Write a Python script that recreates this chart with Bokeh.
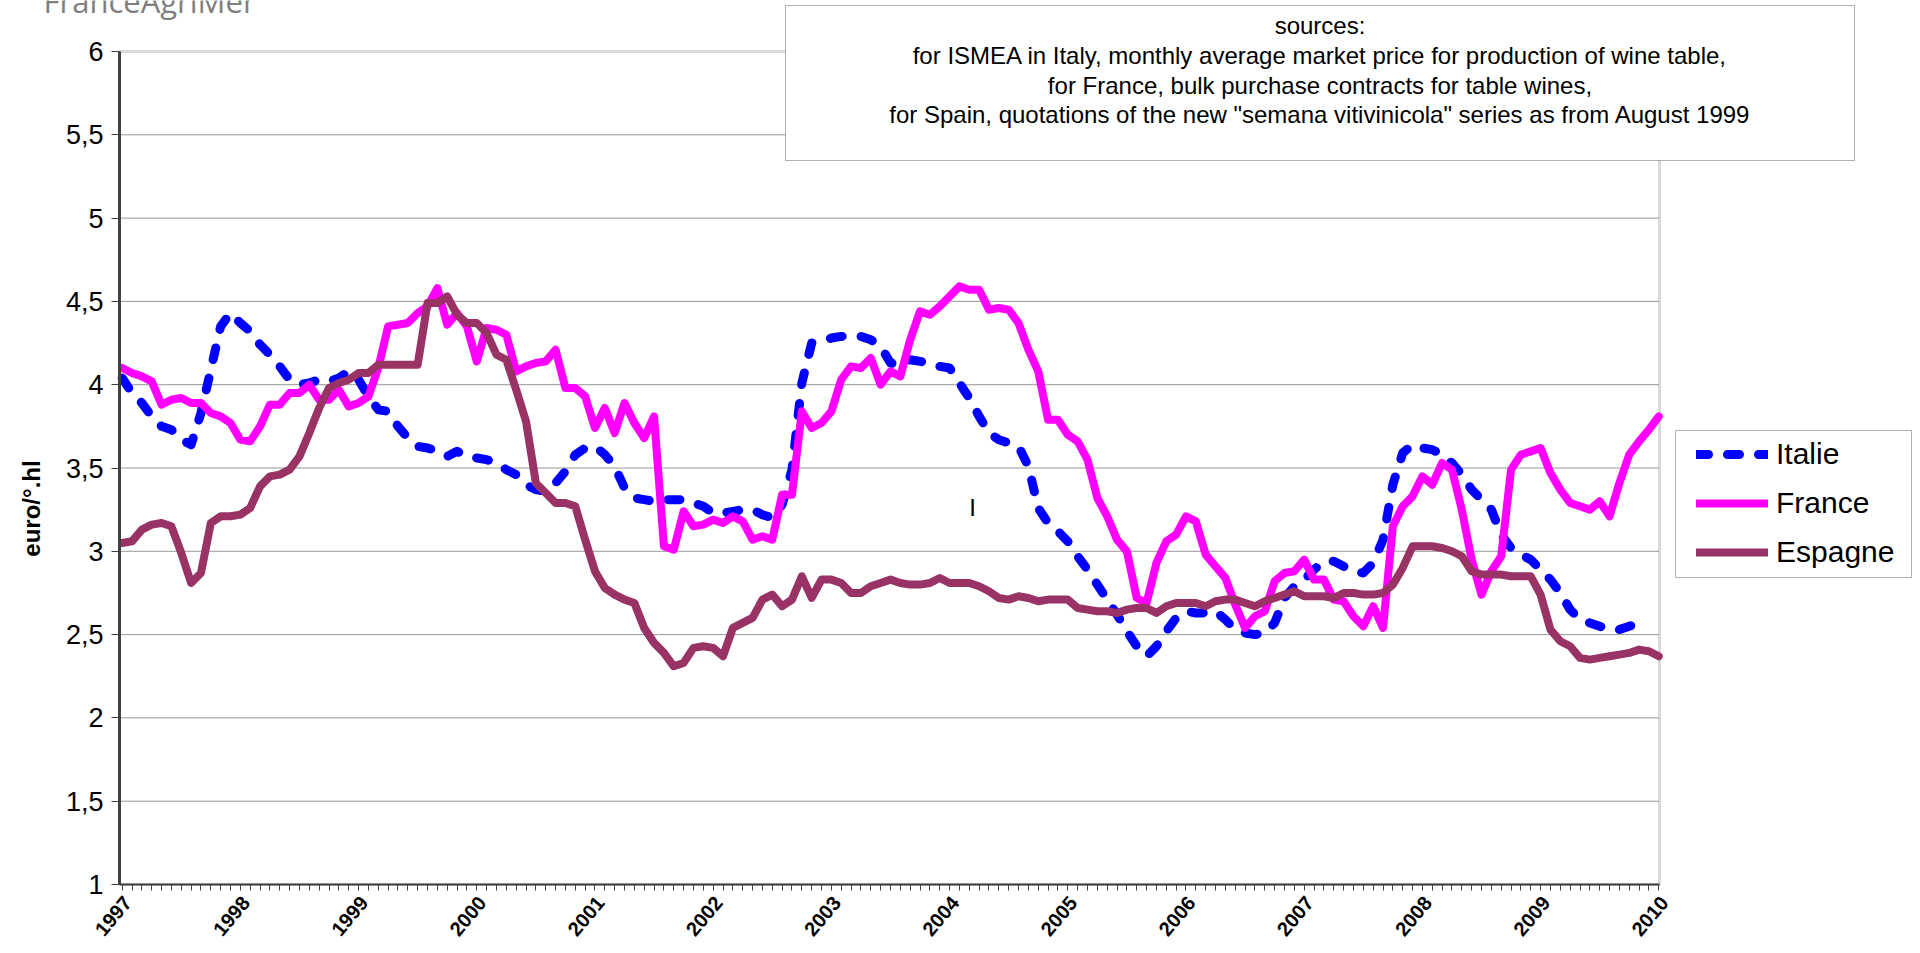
from math import pi
from bokeh.plotting import figure
from bokeh.models import (Range1d, FixedTicker, Legend, LegendItem, Label,
                          BoxAnnotation, ColumnDataSource)
from bokeh.core.properties import value
from bokeh.embed import file_html
from bokeh.resources import INLINE

# ---------------- data ----------------
year_labels = [str(y) for y in range(1997, 2011)]
months = list(range(157))          # Jan 1997 .. Jan 2010
y_ticks = [1, 1.5, 2, 2.5, 3, 3.5, 4, 4.5, 5, 5.5, 6]
y_tick_labels = ["1", "1,5", "2", "2,5", "3", "3,5", "4", "4,5", "5", "5,5", "6"]

italie = [4.04, 3.95, 3.89, 3.81, 3.75, 3.73, 3.67, 3.64, 3.83, 4.09,
          4.35, 4.43, 4.37, 4.32, 4.24, 4.18, 4.11, 4.03, 4.00, 4.01,
          4.03, 4.02, 4.04, 4.08, 4.03, 3.93, 3.85, 3.84, 3.75, 3.68,
          3.63, 3.62, 3.60, 3.57, 3.60, 3.57, 3.56, 3.55, 3.53, 3.49,
          3.46, 3.40, 3.37, 3.36, 3.41, 3.48, 3.58, 3.62, 3.63, 3.58,
          3.51, 3.38, 3.32, 3.31, 3.30, 3.31, 3.31, 3.31, 3.29, 3.27,
          3.23, 3.23, 3.24, 3.25, 3.25, 3.22, 3.20, 3.28, 3.49, 4.01,
          4.25, 4.26, 4.28, 4.29, 4.29, 4.29, 4.27, 4.23, 4.13, 4.12,
          4.15, 4.14, 4.13, 4.11, 4.10, 4.01, 3.92, 3.81, 3.71, 3.67,
          3.65, 3.63, 3.51, 3.26, 3.17, 3.12, 3.06, 2.97, 2.89, 2.80,
          2.71, 2.62, 2.52, 2.43, 2.37, 2.43, 2.52, 2.60, 2.64, 2.63,
          2.63, 2.64, 2.59, 2.53, 2.51, 2.50, 2.51, 2.57, 2.72, 2.79,
          2.83, 2.89, 2.94, 2.94, 2.91, 2.88, 2.87, 2.93, 3.07, 3.40,
          3.59, 3.64, 3.62, 3.61, 3.58, 3.53, 3.46, 3.37, 3.31, 3.25,
          3.10, 3.02, 2.98, 2.95, 2.89, 2.83, 2.75, 2.65, 2.59, 2.57,
          2.55, 2.53, 2.53, 2.55, 2.57, 2.58, float("nan")]

france = [4.10, 4.07, 4.05, 4.02, 3.88, 3.91, 3.92, 3.89, 3.89, 3.83,
          3.81, 3.77, 3.67, 3.66, 3.75, 3.88, 3.88, 3.95, 3.95, 4.00,
          3.91, 3.91, 3.97, 3.87, 3.89, 3.93, 4.10, 4.35, 4.36, 4.37,
          4.43, 4.47, 4.58, 4.36, 4.43, 4.35, 4.14, 4.34, 4.33, 4.30,
          4.08, 4.11, 4.13, 4.14, 4.21, 3.98, 3.98, 3.93, 3.74, 3.86,
          3.71, 3.89, 3.77, 3.68, 3.81, 3.03, 3.01, 3.24, 3.15, 3.16,
          3.19, 3.17, 3.21, 3.18, 3.07, 3.09, 3.07, 3.34, 3.34, 3.84,
          3.74, 3.77, 3.84, 4.03, 4.11, 4.10, 4.16, 4.00, 4.08, 4.05,
          4.27, 4.44, 4.42, 4.47, 4.53, 4.59, 4.57, 4.57, 4.45, 4.46,
          4.45, 4.37, 4.21, 4.08, 3.79, 3.79, 3.70, 3.66, 3.55, 3.32,
          3.21, 3.07, 3.00, 2.72, 2.69, 2.93, 3.06, 3.10, 3.21, 3.18,
          2.98, 2.91, 2.84, 2.68, 2.54, 2.61, 2.64, 2.82, 2.87, 2.88,
          2.95, 2.83, 2.83, 2.71, 2.70, 2.61, 2.55, 2.67, 2.54, 3.15,
          3.27, 3.33, 3.45, 3.40, 3.53, 3.49, 3.25, 2.95, 2.74, 2.88,
          2.97, 3.49, 3.58, 3.60, 3.62, 3.47, 3.37, 3.29, 3.27, 3.25,
          3.30, 3.21, 3.41, 3.58, 3.66, 3.73, 3.81]

espagne = [3.05, 3.06, 3.13, 3.16, 3.17, 3.15, 2.99, 2.81, 2.87, 3.17,
           3.21, 3.21, 3.22, 3.26, 3.39, 3.45, 3.46, 3.49, 3.57, 3.71,
           3.86, 3.98, 4.01, 4.03, 4.07, 4.07, 4.12, 4.12, 4.12, 4.12,
           4.12, 4.49, 4.49, 4.53, 4.42, 4.37, 4.37, 4.31, 4.18, 4.15,
           3.97, 3.78, 3.41, 3.35, 3.29, 3.29, 3.27, 3.07, 2.88, 2.78,
           2.74, 2.71, 2.69, 2.54, 2.45, 2.39, 2.31, 2.33, 2.42, 2.43,
           2.42, 2.37, 2.54, 2.57, 2.60, 2.71, 2.74, 2.67, 2.71, 2.85,
           2.72, 2.83, 2.83, 2.81, 2.75, 2.75, 2.79, 2.81, 2.83, 2.81,
           2.80, 2.80, 2.81, 2.84, 2.81, 2.81, 2.81, 2.79, 2.76, 2.72,
           2.71, 2.73, 2.72, 2.70, 2.71, 2.71, 2.71, 2.66, 2.65, 2.64,
           2.64, 2.63, 2.65, 2.66, 2.66, 2.63, 2.67, 2.69, 2.69, 2.69,
           2.67, 2.70, 2.71, 2.71, 2.69, 2.67, 2.70, 2.72, 2.74, 2.76,
           2.73, 2.73, 2.73, 2.72, 2.75, 2.75, 2.74, 2.74, 2.75, 2.80,
           2.90, 3.03, 3.03, 3.03, 3.02, 3.00, 2.97, 2.88, 2.86, 2.86,
           2.86, 2.85, 2.85, 2.85, 2.74, 2.53, 2.46, 2.43, 2.36, 2.35,
           2.36, 2.37, 2.38, 2.39, 2.41, 2.40, 2.37]

series_names = ["Italie", "France", "Espagne"]
sources_lines = [
    "sources:",
    "for ISMEA in Italy, monthly average market price for production of wine table,",
    "for France, bulk purchase contracts for table wines,",
    "for Spain, quotations of the new \"semana vitivinicola\" series as from August 1999",
]

# ---------------- layout (reference pixels -> data coordinates) ----------------
W, H = 1912, 945
XA, XB = -0.27, 156.07          # data x at plot-area left / right edges
PL, PR, PT, PB = 119, 1659, 51, 884
KX = (XB - XA) / (PR - PL)
KY = 5.0 / (PB - PT)


def dx(px):
    return XA + (px - PL) * KX


def dy(py):
    return 6 - (py - PT) * KY


FONT = "Liberation Sans"

p = figure(width=W, height=H,
           x_range=Range1d(dx(0), dx(W)), y_range=Range1d(dy(H), dy(0)),
           output_backend="svg", toolbar_location=None,
           min_border_left=0, min_border_right=0, min_border_top=0, min_border_bottom=0)
p.title.visible = False
p.background_fill_color = "white"
p.border_fill_color = "white"
p.outline_line_color = None
p.xgrid.visible = False
p.ygrid.visible = False

# plot-area border (gray), drawn beneath everything
p.add_layout(BoxAnnotation(left=XA, right=XB, bottom=1, top=6, fill_color=None,
                           line_color="#868686", line_width=3, level="underlay"))

# horizontal dotted gridlines
p.segment(x0=[XA] * (len(y_ticks) - 2), x1=[XB] * (len(y_ticks) - 2),
          y0=y_ticks[1:-1], y1=y_ticks[1:-1],
          line_color="#333333", line_width=1, line_dash="1 1")

# axes drawn at fixed locations inside the full-size frame
p.xaxis.fixed_location = 1
p.xaxis.bounds = (XA, XB)
p.xaxis.ticker = FixedTicker(ticks=[], minor_ticks=months)
p.xaxis.minor_tick_in = 0
p.xaxis.minor_tick_out = 6
p.xaxis.major_tick_in = 0
p.xaxis.major_tick_out = 6
p.xaxis.axis_line_color = "#404040"
p.xaxis.axis_line_width = 2
p.xaxis.minor_tick_line_color = "#404040"
p.xaxis.major_tick_line_color = "#404040"

p.yaxis.fixed_location = XA
p.yaxis.bounds = (1, 6)
p.yaxis.ticker = FixedTicker(ticks=y_ticks)
p.yaxis.major_label_overrides = {t: lab for t, lab in zip(y_ticks, y_tick_labels)}
p.yaxis.major_label_text_font = FONT
p.yaxis.major_label_text_font_size = "27px"
p.yaxis.major_label_text_color = "black"
p.yaxis.major_label_standoff = 8
p.yaxis.major_tick_in = 0
p.yaxis.major_tick_out = 8
p.yaxis.minor_tick_line_color = None
p.yaxis.axis_line_color = "#404040"
p.yaxis.axis_line_width = 3
p.yaxis.major_tick_line_color = "#404040"

# rotated year labels under the category axis
yl = ColumnDataSource(dict(x=months[::12], y=[dy(894)] * len(year_labels), t=year_labels))
p.text(x="x", y="y", text="t", source=yl, angle=50 * pi / 180,
       text_align="right", text_baseline="top", text_font=value(FONT),
       text_font_style="bold", text_font_size="20px", text_color="black")

# series
r_it = p.line(months, italie, line_color="#0000FF", line_width=9,
              line_dash="12 19", line_cap="round", line_join="round")
r_fr = p.line(months, france, line_color="#FF00FF", line_width=8,
              line_cap="round", line_join="round")
r_es = p.line(months, espagne, line_color="#993366", line_width=8,
              line_cap="round", line_join="round")

# sources box
p.add_layout(BoxAnnotation(left=dx(785), right=dx(1854), top=dy(5), bottom=dy(160),
                           fill_color="white", fill_alpha=1, line_color="black",
                           line_width=1))
for txt, py in zip(sources_lines, [24.5, 55, 84.5, 114]):
    p.add_layout(Label(x=dx(1319.5), y=dy(py), text=txt, text_align="center",
                       text_baseline="middle", text_font=FONT,
                       text_font_size="24px", text_color="black"))

# legend frame + legend entries
p.add_layout(BoxAnnotation(left=dx(1675), right=dx(1911), top=dy(430), bottom=dy(577),
                           fill_color="white", fill_alpha=1, line_color="black",
                           line_width=1))
legend = Legend(items=[LegendItem(label=n, renderers=[r]) for n, r in
                       zip(series_names, [r_it, r_fr, r_es])],
                location=(1696, H - 569))
legend.label_text_font = FONT
legend.label_text_font_size = "30px"
legend.label_text_color = "black"
legend.glyph_width = 72
legend.glyph_height = 34
legend.label_height = 34
legend.label_standoff = 8
legend.spacing = 15
legend.padding = 0
legend.margin = 0
legend.border_line_color = None
legend.background_fill_alpha = 0
p.add_layout(legend)

# y-axis title
p.add_layout(Label(x=dx(31), y=dy(508), text="euro/°.hl", angle=pi / 2,
                   text_align="center", text_baseline="middle", text_font=FONT,
                   text_font_style="bold", text_font_size="24px", text_color="black"))

# stray mark in the plot
p.add_layout(Label(x=dx(972), y=dy(507), text="I", text_align="center",
                   text_baseline="middle", text_font=FONT, text_font_size="24px",
                   text_color="black"))

# logo text, cut by the top of the page
p.add_layout(Label(x=dx(43), y=dy(21), text="FranceAgriMer", text_align="left",
                   text_baseline="bottom", text_font="Open Sans",
                   text_font_size="31px", text_color="#7f7f7f"))

open("out.html", "w").write(file_html(p, INLINE))
